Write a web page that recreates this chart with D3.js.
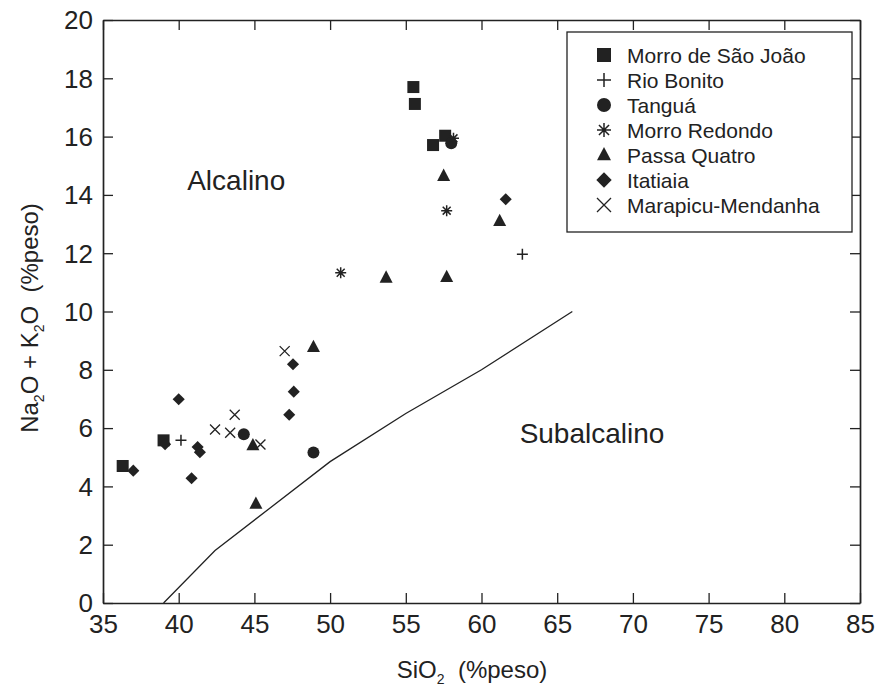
<!DOCTYPE html>
<html><head><meta charset="utf-8">
<script src="https://cdn.jsdelivr.net/npm/d3@7"></script>
<style>body{margin:0;background:#fff}svg{display:block}text{font-family:"Liberation Sans",Arial,sans-serif;fill:#222}</style>
</head><body>
<script>
// ---- data ----
const xTicks = [35,40,45,50,55,60,65,70,75,80,85];
const yTicks = [0,2,4,6,8,10,12,14,16,18,20];
const seriesNames = ["Morro de São João","Rio Bonito","Tanguá","Morro Redondo","Passa Quatro","Itatiaia","Marapicu-Mendanha"];
const morroSaoJoao = [[36.3,4.7],[39.0,5.58],[55.5,17.7],[55.6,17.12],[56.8,15.71],[57.6,16.03]];
const rioBonito = [[40.15,5.58],[62.7,11.96]];
const tangua = [[44.3,5.79],[48.9,5.16],[58.0,15.77]];
const morroRedondo = [[50.7,11.33],[57.7,13.46],[58.15,15.94]];
const passaQuatro = [[44.9,5.41],[45.1,3.4],[48.9,8.78],[53.7,11.16],[57.7,11.18],[57.5,14.65],[61.2,13.1]];
const itatiaia = [[37.0,4.54],[39.1,5.45],[40.0,6.99],[40.85,4.28],[41.25,5.35],[41.4,5.17],[47.3,6.46],[47.6,7.25],[47.55,8.19],[61.6,13.85]];
const marapicu = [[42.4,5.95],[43.4,5.84],[43.7,6.46],[45.4,5.44],[47.0,8.64]];
const boundaryX = [39.0,42.4,50.0,55.0,60.0,66.0];
const boundaryY = [0,1.8,4.85,6.5,8.0,10.0];

const W=879,H=694;
const m={l:103,r:W-860,t:20,b:H-603};
const svg=d3.select("body").append("svg").attr("width",W).attr("height",H);
const x=d3.scaleLinear().domain([35,85]).range([m.l,W-m.r]);
const y=d3.scaleLinear().domain([0,20]).range([H-m.b,m.t]);
const col="#222";

// boundary line
svg.append("path").datum(boundaryX.map((v,i)=>[v,boundaryY[i]]))
  .attr("d",d3.line().x(d=>x(d[0])).y(d=>y(d[1])))
  .attr("fill","none").attr("stroke",col).attr("stroke-width",1.3);

// axes (ticks inward on all four sides)
const tl=10;
const gB=svg.append("g").attr("transform",`translate(0,${y(0)})`)
  .call(d3.axisBottom(x).tickValues(xTicks).tickSizeInner(-tl).tickSizeOuter(0).tickPadding(12));
const gT=svg.append("g").attr("transform",`translate(0,${y(20)})`)
  .call(d3.axisTop(x).tickValues(xTicks).tickSizeInner(-tl).tickSizeOuter(0).tickFormat(""));
const gL=svg.append("g").attr("transform",`translate(${x(35)},0)`)
  .call(d3.axisLeft(y).tickValues(yTicks).tickSizeInner(-tl).tickSizeOuter(0).tickPadding(10));
const gR=svg.append("g").attr("transform",`translate(${x(85)},0)`)
  .call(d3.axisRight(y).tickValues(yTicks).tickSizeInner(-tl).tickSizeOuter(0).tickFormat(""));
[gB,gT,gL,gR].forEach(g=>{
  g.select(".domain").attr("stroke",col).attr("stroke-width",1.7);
  g.selectAll(".tick line").attr("stroke",col).attr("stroke-width",1.3);
  g.selectAll("text").attr("font-size",26).attr("fill",col).attr("font-family","Liberation Sans, Arial, sans-serif");
});
gL.selectAll("text").attr("dy","0.34em");

// symbols
function drawSym(g,type,s){
  const f=col;
  if(type===0) g.append("rect").attr("x",-s/2).attr("y",-s/2).attr("width",s).attr("height",s).attr("fill",f);
  else if(type===1){g.append("path").attr("d",`M${-s/2},0H${s/2}M0,${-s/2}V${s/2}`).attr("stroke",f).attr("stroke-width",1.5);}
  else if(type===2) g.append("circle").attr("r",s/2).attr("fill",f);
  else if(type===3){const r=s/2,d=r*0.72;g.append("path").attr("d",`M${-r},0H${r}M0,${-r}V${r}M${-d},${-d}L${d},${d}M${-d},${d}L${d},${-d}`).attr("stroke",f).attr("stroke-width",1.5);}
  else if(type===4){const h=s*0.95;g.append("path").attr("d",`M0,${-h*0.6}L${s/2},${h*0.4}L${-s/2},${h*0.4}Z`).attr("fill",f);}
  else if(type===5){const r=s*0.55;g.append("path").attr("d",`M0,${-r}L${r},0L0,${r}L${-r},0Z`).attr("fill",f);}
  else if(type===6){const r=s/2;g.append("path").attr("d",`M${-r},${-r}L${r},${r}M${-r},${r}L${r},${-r}`).attr("stroke",f).attr("stroke-width",1.3);}
}
const allSeries=[morroSaoJoao,rioBonito,tangua,morroRedondo,passaQuatro,itatiaia,marapicu];
const sizes=[12,11,12,11,13,11,10];
allSeries.forEach((ser,i)=>{
  ser.forEach(p=>{
    const g=svg.append("g").attr("transform",`translate(${x(p[0])},${y(p[1])})`);
    drawSym(g,i,sizes[i]);
  });
});

// field labels
svg.append("text").attr("x",x(43.8)).attr("y",y(14.5)).attr("dy","0.36em").attr("text-anchor","middle").attr("font-size",28).text("Alcalino");
svg.append("text").attr("x",x(67.3)).attr("y",y(5.85)).attr("dy","0.36em").attr("text-anchor","middle").attr("font-size",28).text("Subalcalino");

// legend
const lg=svg.append("g");
lg.append("rect").attr("x",567).attr("y",32).attr("width",285).attr("height",200).attr("fill","#fff").attr("stroke",col).attr("stroke-width",1.3);
seriesNames.forEach((n,i)=>{
  const cy=55+i*25;
  const g=lg.append("g").attr("transform",`translate(604,${cy})`);
  drawSym(g,i,14);
  lg.append("text").attr("x",627).attr("y",cy).attr("dy","0.36em").attr("font-size",21).text(n);
});

// axis titles
const xt=svg.append("text").attr("x",472).attr("y",678).attr("text-anchor","middle").attr("font-size",24).attr("style","white-space:pre");
xt.append("tspan").text("SiO");
xt.append("tspan").attr("font-size",14).attr("dy",6).text("2");
xt.append("tspan").attr("dy",-6).text("  (%peso)");

const yt=svg.append("text").attr("transform",`translate(38,318) rotate(-90)`).attr("text-anchor","middle").attr("font-size",24).attr("style","white-space:pre");
yt.append("tspan").text("Na");
yt.append("tspan").attr("font-size",14).attr("dy",6).text("2");
yt.append("tspan").attr("dy",-6).text("O + K");
yt.append("tspan").attr("font-size",14).attr("dy",6).text("2");
yt.append("tspan").attr("dy",-6).text("O  (%peso)");
</script>
</body></html>
